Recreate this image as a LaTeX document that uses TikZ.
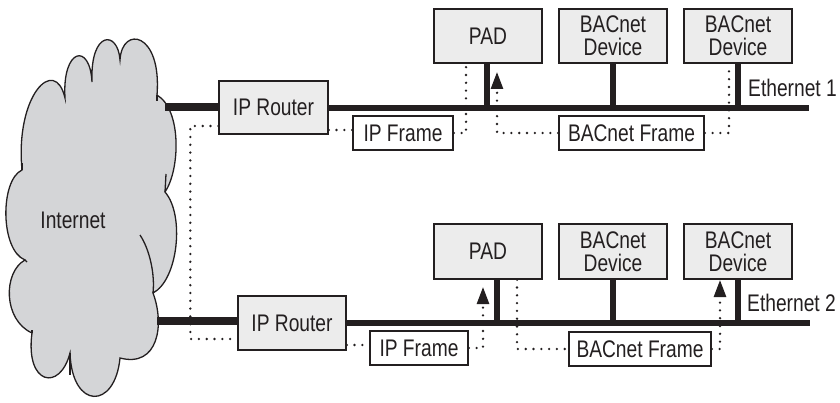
\documentclass[tikz,border=0pt]{standalone}
\usepackage{fontspec}
\setmainfont[FakeStretch=0.8]{Liberation Sans}
\usetikzlibrary{arrows.meta,calc}
\newcommand\diagfont{\fontsize{24}{26}\selectfont}
\definecolor{boxfill}{HTML}{ECECEC}
\definecolor{cloudfill}{HTML}{D4D5D7}
\definecolor{ink}{HTML}{231F20}
\tikzset{
  dev/.style={draw=ink, line width=1.4pt, fill=boxfill, minimum width=108pt, minimum height=54pt, inner sep=0pt, align=center, font=\diagfont, text=ink},
  frm/.style={draw=ink, line width=1.6pt, fill=white, minimum height=34pt, inner sep=0pt, font=\diagfont, text=ink},
  bus/.style={line width=6pt, ink},
  link/.style={line width=8.5pt, ink},
  dotline/.style={line width=2.6pt, dash pattern=on 0pt off 7.8pt, line cap=round, ink},
  arr/.style={dotline, -{Triangle[length=17pt,width=12pt]}},
  cloudline/.style={draw=ink, line width=1.3pt}
}
\begin{document}
\begin{tikzpicture}[x=1pt,y=-1pt]
\path[use as bounding box] (0,0) rectangle (840,403);
% cloud
\filldraw[cloudline, fill=cloudfill] (22,170) .. controls (15,95) and (55,55) .. (65,98)
  .. controls (62,48) and (90,42) .. (92,82)
  .. controls (90,30) and (118,30) .. (120,60)
  .. controls (122,25) and (162,32) .. (157,95)
  .. controls (182,110) and (180,170) .. (165,192)
  .. controls (185,215) and (178,280) .. (153,293)
  .. controls (165,325) and (158,368) .. (120,358)
  .. controls (115,410) and (72,410) .. (70,353)
  .. controls (60,392) and (25,385) .. (32,333)
  .. controls (3,320) and (3,272) .. (25,260)
  .. controls (0,250) and (0,180) .. (22,170) -- cycle;
\draw[cloudline] (140,235) .. controls (150,250) and (155,275) .. (153,293);
\draw[cloudline] (157,95) -- (157,101);
\draw[cloudline] (165,192) -- (166,174);
\draw[cloudline] (22,170) -- (22,163);
\draw[cloudline] (25,260) -- (27,262);
\draw[cloudline] (70,353) -- (70,375);
\draw[cloudline] (32,333) -- (32,330);
\node[font=\diagfont, text=ink] (inet) at (73,220) {Internet};

% top network
\node[dev, minimum width=109pt, minimum height=53pt] (r1) at (273.5,107.5) {IP Router};
\node[dev] (pad1) at (488,36) {PAD};
\node[dev] (d11) at (613,36) {BACnet\\[-3pt]Device};
\node[dev] (d12) at (738,36) {BACnet\\[-3pt]Device};
\node[frm, minimum width=100pt] (ipf1) at (403,133) {IP Frame};
\node[frm, minimum width=145pt] (bf1) at (631.5,133) {BACnet Frame};
\node[anchor=west, inner sep=0pt, font=\diagfont, text=ink] (e1) at (748,88) {Ethernet 1};

\coordinate (c1) at (165,107);
\coordinate (b1end) at (809,108);
\coordinate (p1s) at ($(pad1.south)+(-1,0)$);
\draw[link] (c1) -- (c1 -| r1.west);
\draw[bus] (r1.east |- b1end) -- (b1end);
\draw[bus] (p1s) -- (p1s |- b1end);
\draw[bus] (d11.south) -- (d11.south |- b1end);
\draw[bus] (d12.south) -- (d12.south |- b1end);

% bottom network
\node[dev] (r2) at (292,323) {IP Router};
\node[dev, minimum height=55pt] (pad2) at (488,251.5) {PAD};
\node[dev, minimum height=55pt] (d21) at (613,251.5) {BACnet\\[-3pt]Device};
\node[dev, minimum height=55pt] (d22) at (738,251.5) {BACnet\\[-3pt]Device};
\node[frm, minimum width=98pt] (ipf2) at (419,348) {IP Frame};
\node[frm, minimum width=142pt] (bf2) at (640,349) {BACnet Frame};
\node[anchor=west, inner sep=0pt, font=\diagfont, text=ink] (e2) at (747,303) {Ethernet 2};

\coordinate (c2) at (157,321);
\coordinate (b2end) at (810,323);
\coordinate (p2s) at ($(pad2.south)+(9,0)$);
\draw[link] (c2) -- (c2 -| r2.west);
\draw[bus] (r2.east |- b2end) -- (b2end);
\draw[bus] (p2s) -- (p2s |- b2end);
\draw[bus] (d21.south) -- (d21.south |- b2end);
\draw[bus] (d22.south) -- (d22.south |- b2end);

% dotted frame paths
\draw[dotline] ($(r1.west)+(0,18.5)$) -- ++(-28,0) |- ($(r2.west)+(0,16)$);
\draw[dotline] (r1.east |- 0,130) -- (ipf1.west |- 0,130);
\draw[dotline] (ipf1.east) -| ($(pad1.south)+(-22,0)$);
\coordinate (tip1) at (497,72);
\draw[arr] (bf1.west) -| (tip1);
\draw[dotline] (bf1.east) -| ($(d12.south)+(-9,0)$);

\draw[dotline] (r2.east |- 0,345) -- (ipf2.west |- 0,345);
\coordinate (tip2) at (483,287);
\draw[arr] (ipf2.east) -| (tip2);
\draw[dotline] ($(pad2.south)+(29,0)$) |- (bf2.west);
\coordinate (tip3) at (720,280);
\draw[arr] (bf2.east) -| (tip3);
\end{tikzpicture}
\end{document}
